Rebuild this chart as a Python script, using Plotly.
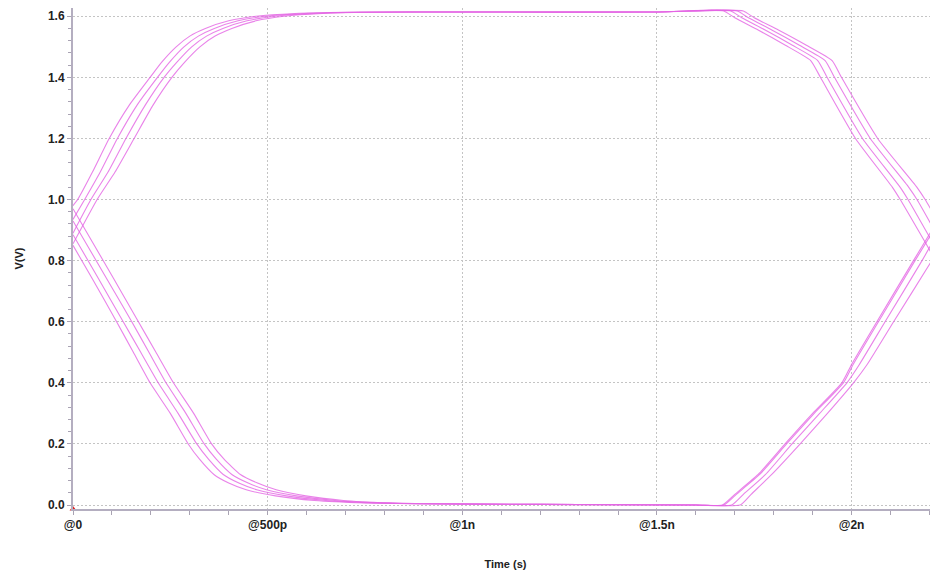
import plotly.graph_objects as go

# ---------------- data (time in ps, voltage in V) ----------------
# upper traces: rise at the left, flat at the top, fall at the right
top1_t = [0, 12, 50, 93, 145, 198, 228, 265, 300, 340, 400, 470, 570, 700, 1000, 1500, 1640, 1672, 1700, 1760, 1830, 1895, 1920, 2010, 2105, 2125, 2230]
top1_v = [0.98, 1.0, 1.09, 1.2, 1.31, 1.4, 1.45, 1.5, 1.535, 1.56, 1.585, 1.60, 1.609, 1.613, 1.614, 1.614, 1.62, 1.617, 1.595, 1.555, 1.505, 1.455, 1.40, 1.20, 1.04, 1.0, 0.77]
top2_t = [0, 30, 70, 114, 165, 217, 248, 285, 322, 363, 424, 495, 595, 720, 1000, 1500, 1655, 1690, 1718, 1778, 1848, 1913, 1937, 2028, 2125, 2145, 2230]
top2_v = [0.935, 1.0, 1.09, 1.2, 1.31, 1.4, 1.45, 1.5, 1.535, 1.56, 1.585, 1.60, 1.609, 1.613, 1.614, 1.614, 1.62, 1.617, 1.595, 1.555, 1.505, 1.455, 1.40, 1.20, 1.04, 1.0, 0.81]
top3_t = [0, 46, 90, 136, 186, 234, 267, 305, 343, 385, 447, 518, 618, 740, 1000, 1500, 1670, 1707, 1735, 1795, 1866, 1932, 1956, 2048, 2147, 2168, 2230]
top3_v = [0.89, 1.0, 1.09, 1.2, 1.31, 1.4, 1.45, 1.5, 1.535, 1.56, 1.585, 1.60, 1.609, 1.613, 1.614, 1.614, 1.62, 1.617, 1.595, 1.555, 1.505, 1.455, 1.40, 1.20, 1.04, 1.0, 0.86]
top4_t = [0, 62, 108, 157, 206, 254, 287, 326, 365, 408, 470, 542, 640, 760, 1000, 1500, 1685, 1722, 1750, 1812, 1884, 1950, 1974, 2067, 2168, 2189, 2230]
top4_v = [0.855, 1.0, 1.09, 1.2, 1.31, 1.4, 1.45, 1.5, 1.535, 1.56, 1.585, 1.60, 1.609, 1.613, 1.614, 1.614, 1.62, 1.617, 1.595, 1.555, 1.505, 1.455, 1.40, 1.20, 1.04, 1.0, 0.91]

# lower traces: fall at the left, flat at the bottom, rise at the right
bot1_t = [0, 50, 112, 155, 198, 250, 296, 325, 362, 400, 445, 520, 620, 750, 900, 1200, 1600, 1668, 1700, 1760, 1829, 1900, 1975, 2000, 2065, 2159, 2230]
bot1_v = [0.85, 0.74, 0.6, 0.5, 0.4, 0.3, 0.2, 0.15, 0.1, 0.072, 0.05, 0.03, 0.015, 0.007, 0.004, 0.002, 0.0, 0.0, 0.035, 0.1, 0.2, 0.3, 0.4, 0.46, 0.6, 0.8, 0.95]
bot2_t = [0, 66, 129, 174, 219, 270, 318, 348, 386, 426, 472, 548, 648, 770, 900, 1200, 1600, 1672, 1704, 1764, 1833, 1904, 1979, 2004, 2069, 2163, 2230]
bot2_v = [0.885, 0.74, 0.6, 0.5, 0.4, 0.3, 0.2, 0.15, 0.1, 0.072, 0.05, 0.03, 0.015, 0.007, 0.004, 0.002, 0.0, 0.0, 0.035, 0.1, 0.2, 0.3, 0.4, 0.46, 0.6, 0.8, 0.94]
bot3_t = [0, 87, 151, 195, 239, 290, 337, 368, 408, 450, 497, 574, 672, 790, 900, 1200, 1600, 1692, 1722, 1779, 1847, 1918, 1988, 2020, 2086, 2181, 2230]
bot3_v = [0.93, 0.74, 0.6, 0.5, 0.4, 0.3, 0.2, 0.15, 0.1, 0.072, 0.05, 0.03, 0.015, 0.007, 0.004, 0.002, 0.0, 0.0, 0.035, 0.1, 0.2, 0.3, 0.4, 0.46, 0.6, 0.8, 0.91]
bot4_t = [0, 105, 168, 213, 258, 310, 356, 388, 430, 474, 522, 598, 695, 810, 900, 1200, 1600, 1714, 1742, 1795, 1868, 1938, 2005, 2040, 2108, 2206, 2230]
bot4_v = [0.97, 0.74, 0.6, 0.5, 0.4, 0.3, 0.2, 0.15, 0.1, 0.072, 0.05, 0.03, 0.015, 0.007, 0.004, 0.002, 0.0, 0.0, 0.035, 0.1, 0.2, 0.3, 0.4, 0.46, 0.6, 0.8, 0.853]

x_tick_vals = [0, 500, 1000, 1500, 2000]
x_tick_text = ["@0", "@500p", "@1n", "@1.5n", "@2n"]
y_tick_vals = [0.0, 0.2, 0.4, 0.6, 0.8, 1.0, 1.2, 1.4, 1.6]
y_tick_text = ["0.0", "0.2", "0.4", "0.6", "0.8", "1.0", "1.2", "1.4", "1.6"]

x_range = [0, 2222]
y_range = [-0.013, 1.627]

# ---------------- figure ----------------
traces = [
    (top1_t, top1_v), (top2_t, top2_v), (top3_t, top3_v), (top4_t, top4_v),
    (bot1_t, bot1_v), (bot2_t, bot2_v), (bot3_t, bot3_v), (bot4_t, bot4_v),
]

fig = go.Figure()
for t, v in traces:
    fig.add_trace(go.Scatter(
        x=t, y=v, mode="lines",
        line=dict(color="rgba(228,100,228,0.8)", width=1.1, shape="spline", smoothing=0.5),
        showlegend=False, hoverinfo="skip"))

# small red origin marker
fig.add_trace(go.Scatter(x=[x_range[0]], y=[y_range[0]], mode="markers",
                         marker=dict(symbol="triangle-up", size=6, color="#e02020"),
                         cliponaxis=False, showlegend=False, hoverinfo="skip"))

font_family = "Liberation Sans, Arial, sans-serif"
axis_font = dict(family=font_family, size=12, color="#222222", weight="bold")
title_font = dict(family=font_family, size=11, color="#222222", weight="bold")

common = dict(
    tickfont=axis_font, ticks="outside", ticklen=4, tickcolor="#a9a3b3",
    showline=True, linecolor="#b4aec0", linewidth=2,
    showgrid=True, gridcolor="#c4c4c4", griddash="2px,2px", gridwidth=1,
    zeroline=False,
)

fig.update_layout(
    width=930, height=569,
    margin=dict(l=65, r=0, t=0, b=68, autoexpand=False),
    paper_bgcolor="white", plot_bgcolor="white",
    xaxis=dict(
        range=x_range, tickvals=x_tick_vals, ticktext=x_tick_text,
        minor=dict(dtick=100, ticks="outside", ticklen=4, tickcolor="#a9a3b3", showgrid=False),
        title=dict(text="Time (s)", font=title_font, standoff=29),
        **common,
    ),
    yaxis=dict(
        range=y_range, tickvals=y_tick_vals, ticktext=y_tick_text,
        minor=dict(dtick=0.04, ticks="outside", ticklen=3, tickcolor="#a9a3b3", showgrid=False),
        title=dict(text="V(V)", font=title_font, standoff=22),
        **common,
    ),
)

fig.write_html("out.html")
